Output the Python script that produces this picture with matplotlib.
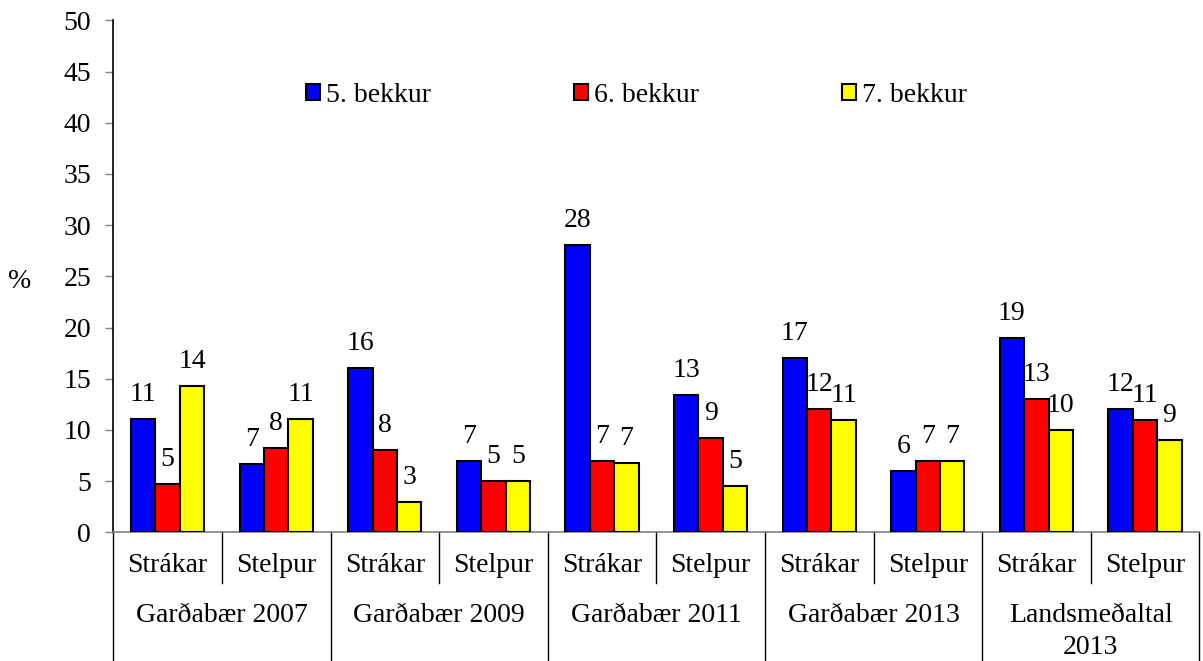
import math
import matplotlib
matplotlib.use("Agg")
import matplotlib.pyplot as plt
from matplotlib.transforms import blended_transform_factory

# ---- data ----
subgroups = ["Strákar", "Stelpur"] * 5
groups = ["Garðabær 2007", "Garðabær 2009", "Garðabær 2011", "Garðabær 2013", "Landsmeðaltal\n2013"]
series_names = ["5. bekkur", "6. bekkur", "7. bekkur"]
bekkur5 = [11.1, 6.7, 16.0, 7.0, 28.1, 13.4, 17.0, 6.0, 19.0, 12.0]
bekkur6 = [4.7, 8.2, 8.0, 5.0, 7.0, 9.2, 12.0, 7.0, 13.0, 11.0]
bekkur7 = [14.3, 11.1, 3.0, 5.0, 6.8, 4.5, 11.0, 7.0, 10.0, 9.0]
yticks = [0, 5, 10, 15, 20, 25, 30, 35, 40, 45, 50]

colors = ["#0000FF", "#FF0000", "#FFFF00"]
FONT = "Liberation Serif"
FS = 20

W, H = 1203, 661
fig = plt.figure(figsize=(W / 100, H / 100), dpi=100)
x0, x1 = 113.3, 1199.3
y0, y1 = 532.3, 20.3
ax = fig.add_axes([x0 / W, 1 - y0 / H, (x1 - x0) / W, (y0 - y1) / H])

n = len(subgroups)
xs = list(range(n))
bw = 0.225
all_series = [bekkur5, bekkur6, bekkur7]
for i, (vals, name, c) in enumerate(zip(all_series, series_names, colors)):
    pos = [x + (i - 1) * bw for x in xs]
    ax.bar(pos, vals, width=bw, color=c, edgecolor="black", linewidth=1.5, label=name, zorder=3)
    for p, v in zip(pos, vals):
        ax.annotate(str(int(math.floor(v + 0.5))), xy=(p, v), xytext=(0, 13),
                    textcoords="offset points", ha="center", va="baseline",
                    fontsize=FS, family=FONT)

ax.set_xlim(-0.5, n - 0.5)
ax.set_ylim(0, 50)
ax.set_yticks(yticks)
ax.set_yticklabels([str(t) for t in yticks], fontsize=FS, family=FONT)
ax.tick_params(axis="y", direction="out", length=6, width=1, color="#808080", pad=10)
ax.set_xticks([])
for s in ["top", "right"]:
    ax.spines[s].set_visible(False)
ax.spines["left"].set_color("black")
ax.spines["left"].set_linewidth(1.2)
ax.spines["bottom"].set_color("#808080")
ax.spines["bottom"].set_linewidth(1.2)

# hierarchical category axis
tr = blended_transform_factory(ax.transData, fig.transFigure)
def fy(px):
    return 1 - px / H

for k in range(n + 1):
    xb = k - 0.5
    if k % 2 == 0:
        ax.plot([xb, xb], [fy(y0), fy(H + 2)], transform=tr, color="black", lw=1.0, clip_on=False)
    else:
        ax.plot([xb, xb], [fy(y0), fy(583)], transform=tr, color="black", lw=1.0, clip_on=False)

for x, lab in zip(xs, subgroups):
    ax.text(x, fy(566), lab, transform=tr, ha="center", va="center", fontsize=FS, family=FONT)
for g, lab in enumerate(groups):
    xc = 2 * g + 0.5
    lines = lab.split("\n")
    for j, ln in enumerate(lines):
        ax.text(xc, fy(615 + 33 * j), ln, transform=tr, ha="center", va="center", fontsize=FS, family=FONT)

fig.text(20 / W, fy(282), "%", ha="center", va="center", fontsize=FS, family=FONT)

leg = ax.legend(loc="center left", bbox_to_anchor=(306 / W, fy(95)), bbox_transform=fig.transFigure,
                ncol=3, frameon=False, prop={"family": FONT, "size": FS},
                handlelength=0.5, handleheight=0.5, handletextpad=0.22,
                columnspacing=5.15, borderpad=0, borderaxespad=0)

fig.savefig("out.png", dpi=100)
